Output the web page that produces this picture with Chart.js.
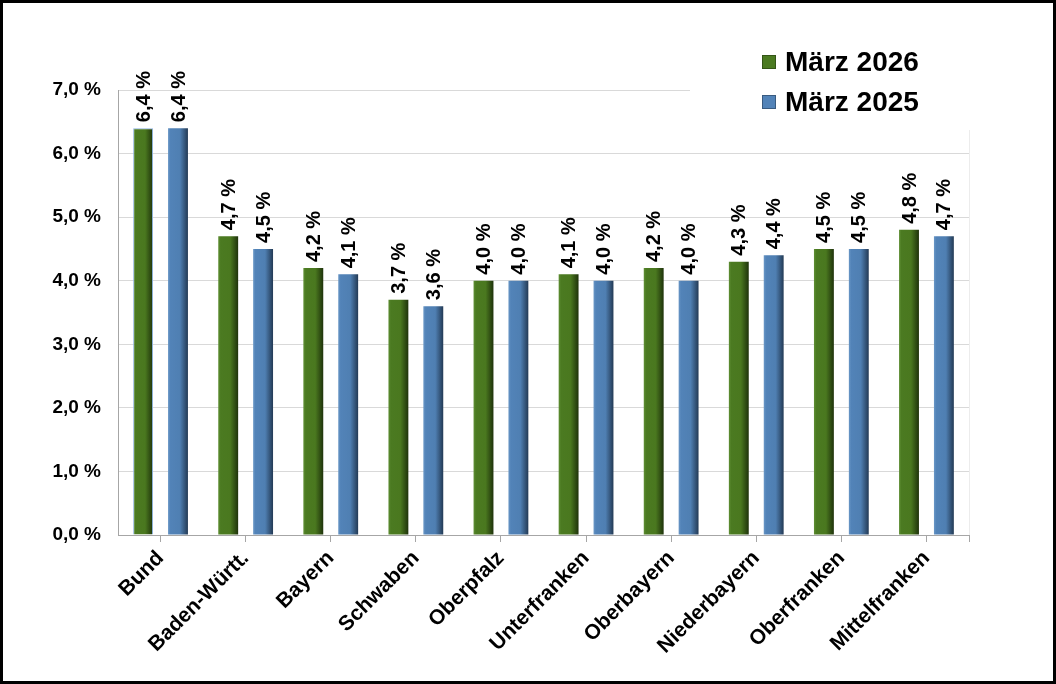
<!DOCTYPE html>
<html>
<head>
<meta charset="utf-8">
<script src="https://cdn.jsdelivr.net/npm/chart.js@4/dist/chart.umd.min.js"></script>
<style>
  body { margin: 0; background: #fff; }
  #wrap { width: 1050px; height: 678px; border: 3px solid #000; position: relative; }
</style>
</head>
<body>
<div id="wrap"><canvas id="quoteChart"></canvas></div>
<script>
var categories = ['Bund', 'Baden-Württ.', 'Bayern', 'Schwaben', 'Oberpfalz',
                  'Unterfranken', 'Oberbayern', 'Niederbayern', 'Oberfranken', 'Mittelfranken'];
var maerz2026 = [6.4, 4.7, 4.2, 3.7, 4.0, 4.1, 4.2, 4.3, 4.5, 4.8];
var maerz2025 = [6.4, 4.5, 4.1, 3.6, 4.0, 4.0, 4.0, 4.4, 4.5, 4.7];
var seriesLabels = ['März 2026', 'März 2025'];
var yTicks = [0, 1, 2, 3, 4, 5, 6, 7];

var FONT = 'Liberation Sans, Arial, sans-serif';
var GREEN = '#4b7a21';
var BLUE = '#5283b8';

function fmt(v) {
    return v.toFixed(1).replace('.', ',') + ' %';
}

// horizontal shading of each bar (dark right edge)
var barShading = {
    id: 'barShading',
    beforeDatasetsDraw(chart) {
        var ctx = chart.ctx;
        var stops = [
            ['#5f8f34', '#4b7a21', '#4a781f', '#1f330b'],
            ['#6a97c6', '#5283b8', '#4f7fb2', '#233a55']
        ];
        chart.data.datasets.forEach(function (ds, i) {
            chart.getDatasetMeta(i).data.forEach(function (bar) {
                var x0 = bar.x - bar.width / 2, x1 = bar.x + bar.width / 2;
                var g = ctx.createLinearGradient(x0, 0, x1, 0);
                g.addColorStop(0, stops[i][0]);
                g.addColorStop(0.12, stops[i][1]);
                g.addColorStop(0.6, stops[i][2]);
                g.addColorStop(1, stops[i][3]);
                bar.options.backgroundColor = g;
            });
        });
        // faint right edge of the plot and the last axis tick
        var a = chart.chartArea;
        ctx.save();
        ctx.strokeStyle = '#ececec';
        ctx.lineWidth = 1;
        ctx.beginPath();
        ctx.moveTo(a.right + 0.5, 127);
        ctx.lineTo(a.right + 0.5, a.bottom);
        ctx.stroke();
        ctx.strokeStyle = '#a6a6a6';
        ctx.beginPath();
        ctx.moveTo(a.right + 0.5, a.bottom);
        ctx.lineTo(a.right + 0.5, a.bottom + 7);
        ctx.stroke();
        ctx.restore();
    }
};

// rotated value labels above the bars
var valueLabels = {
    id: 'valueLabels',
    afterDatasetsDraw(chart) {
        var ctx = chart.ctx;
        ctx.save();
        ctx.fillStyle = '#000';
        ctx.font = 'bold 20px ' + FONT;
        ctx.textAlign = 'left';
        ctx.textBaseline = 'middle';
        chart.data.datasets.forEach(function (ds, i) {
            chart.getDatasetMeta(i).data.forEach(function (bar, j) {
                ctx.save();
                ctx.translate(bar.x + 1, bar.y - 6);
                ctx.rotate(-Math.PI / 2);
                ctx.fillText(fmt(ds.data[j]), 0, 0);
                ctx.restore();
            });
        });
        ctx.restore();
    }
};

// legend in the upper right corner, on a white box over the grid
var cornerLegend = {
    id: 'cornerLegend',
    afterDatasetsDraw(chart) {
        var ctx = chart.ctx;
        var area = chart.chartArea;
        ctx.save();
        ctx.fillStyle = '#fff';
        ctx.fillRect(687, area.top - 3, area.right - 687 + 3, 127 - area.top + 3);
        var cols = [GREEN, BLUE];
        ctx.font = 'bold 28px ' + FONT;
        ctx.textAlign = 'left';
        ctx.textBaseline = 'middle';
        seriesLabels.forEach(function (lbl, i) {
            var y = 59 + i * 40;
            ctx.fillStyle = cols[i];
            ctx.fillRect(759, y - 7, 14, 14);
            ctx.strokeStyle = 'rgba(0,0,0,0.3)';
            ctx.lineWidth = 1;
            ctx.strokeRect(759.5, y - 6.5, 13, 13);
            ctx.fillStyle = '#000';
            ctx.fillText(lbl, 782, y + 1);
        });
        ctx.restore();
    }
};

new Chart(document.getElementById('quoteChart').getContext('2d'), {
    type: 'bar',
    data: {
        labels: categories,
        datasets: [{
            label: seriesLabels[0],
            data: maerz2026,
            backgroundColor: function () { return GREEN; },
            borderColor: function (c) { return c.dataIndex === 0 ? '#8fb4e0' : 'rgba(0,0,0,0)'; },
            borderWidth: function (c) { return c.dataIndex === 0 ? 1 : 0; },
            categoryPercentage: 0.82,
            barPercentage: 0.57
        }, {
            label: seriesLabels[1],
            data: maerz2025,
            backgroundColor: function () { return BLUE; },
            borderWidth: function () { return 0; },
            categoryPercentage: 0.82,
            barPercentage: 0.57
        }]
    },
    options: {
        responsive: true,
        maintainAspectRatio: false,
        animation: false,
        layout: { padding: { top: 87, right: 84, left: 0, bottom: 0 } },
        plugins: {
            legend: { display: false },
            tooltip: { enabled: false }
        },
        scales: {
            x: {
                grid: {
                    display: true,
                    drawOnChartArea: false,
                    offset: false,
                    tickLength: 7,
                    color: '#a6a6a6'
                },
                border: { color: '#a6a6a6', width: 1 },
                ticks: {
                    color: '#000',
                    font: { family: FONT, size: 21, weight: 'bold' },
                    minRotation: 45,
                    maxRotation: 45,
                    padding: 4
                },
                afterFit(scale) { scale.height = 146; }
            },
            y: {
                min: 0,
                max: 7,
                afterBuildTicks(scale) {
                    scale.ticks = yTicks.map(function (v) { return { value: v }; });
                },
                grid: {
                    color: '#d9d9d9',
                    drawTicks: false
                },
                border: { color: '#a6a6a6', width: 1 },
                ticks: {
                    color: '#000',
                    font: { family: FONT, size: 19, weight: 'bold' },
                    padding: 17,
                    callback: function (v) { return fmt(v); }
                },
                afterFit(scale) { scale.width = 115; }
            }
        }
    },
    plugins: [barShading, valueLabels, cornerLegend]
});
</script>
</body>
</html>
